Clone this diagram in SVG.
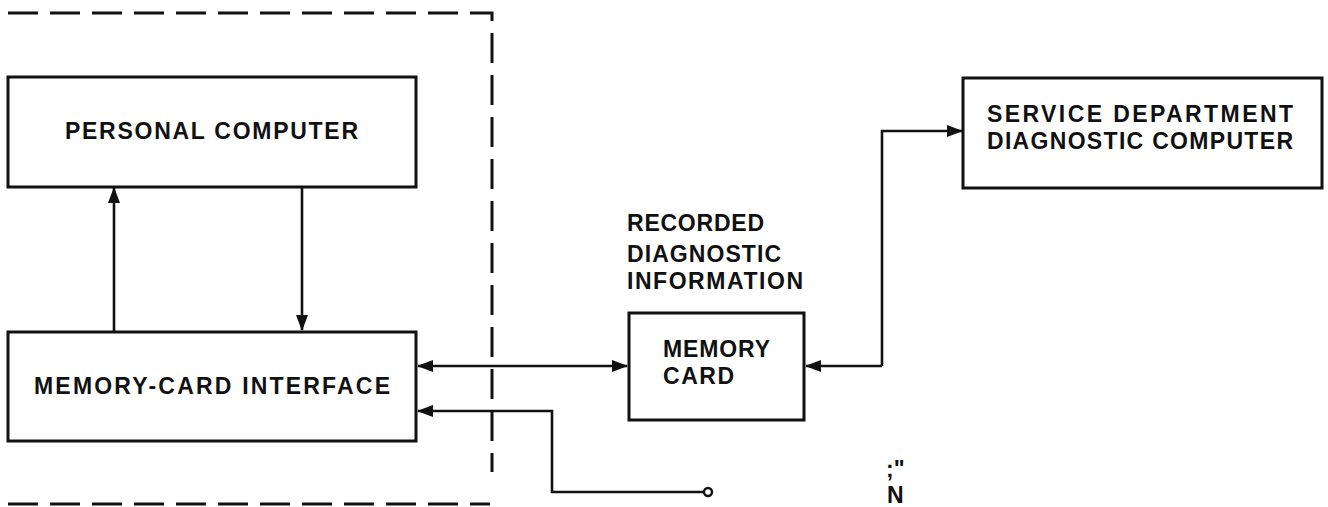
<svg xmlns="http://www.w3.org/2000/svg" width="1328" height="507" viewBox="0 0 1328 507">
<defs>
<style>
.box{fill:#fff;stroke:#111;stroke-width:3}
.ln{fill:none;stroke:#111;stroke-width:2.6}
.dash{fill:none;stroke:#111;stroke-width:3;stroke-dasharray:30 12}
.t{font-family:"Liberation Sans",Arial,sans-serif;font-size:23px;fill:#111;font-weight:bold}
</style>
<marker id="ah" viewBox="0 0 16 12" refX="15" refY="6" markerWidth="16" markerHeight="12" markerUnits="userSpaceOnUse" orient="auto-start-reverse">
<path d="M0,0 L16,6 L0,12 Z" fill="#111"/>
</marker>
</defs>
<rect width="1328" height="507" fill="#fff"/>
<g id="boundary">
<path class="dash" d="M8,13 H492 V472"/>
<path class="dash" d="M8,504 H490"/>
</g>
<g id="personal-computer">
<rect class="box" x="8" y="77" width="408" height="110"/>
<text class="t" x="65" y="139" textLength="293" lengthAdjust="spacing">PERSONAL COMPUTER</text>
</g>
<g id="memory-card-interface">
<rect class="box" x="8" y="332" width="408" height="109"/>
<text class="t" x="34" y="394" textLength="356" lengthAdjust="spacing">MEMORY-CARD INTERFACE</text>
</g>
<g id="memory-card">
<rect class="box" x="629" y="313" width="175" height="107"/>
<text class="t" x="663" y="357" textLength="107" lengthAdjust="spacing">MEMORY</text>
<text class="t" x="663" y="384" textLength="71" lengthAdjust="spacing">CARD</text>
</g>
<g id="recorded-label">
<text class="t" x="627" y="231" textLength="137" lengthAdjust="spacing">RECORDED</text>
<text class="t" x="627" y="262" textLength="154" lengthAdjust="spacing">DIAGNOSTIC</text>
<text class="t" x="627" y="289" textLength="176" lengthAdjust="spacing">INFORMATION</text>
</g>
<g id="service-computer">
<rect class="box" x="963" y="78" width="359" height="110"/>
<text class="t" x="987" y="122" textLength="306" lengthAdjust="spacing">SERVICE DEPARTMENT</text>
<text class="t" x="987" y="149" textLength="306" lengthAdjust="spacing">DIAGNOSTIC COMPUTER</text>
</g>
<g id="connectors">
<line class="ln" x1="114" y1="331" x2="114" y2="188" marker-end="url(#ah)"/>
<line class="ln" x1="302" y1="188" x2="302" y2="330" marker-end="url(#ah)"/>
<line class="ln" x1="418" y1="366" x2="627" y2="366" marker-start="url(#ah)" marker-end="url(#ah)"/>
<path class="ln" d="M708,492 H552 V411 H418" marker-end="url(#ah)"/>
<circle cx="708" cy="492" r="4" fill="#fff" stroke="#111" stroke-width="2.4"/>
<path class="ln" d="M882,366 H806" marker-end="url(#ah)"/>
<path class="ln" d="M882,366 V131 H962" marker-end="url(#ah)"/>
</g>
<g id="stray-text">
<text class="t" x="886" y="477" font-size="18">;"</text>
<text class="t" x="887" y="503">N</text>
</g>
</svg>
